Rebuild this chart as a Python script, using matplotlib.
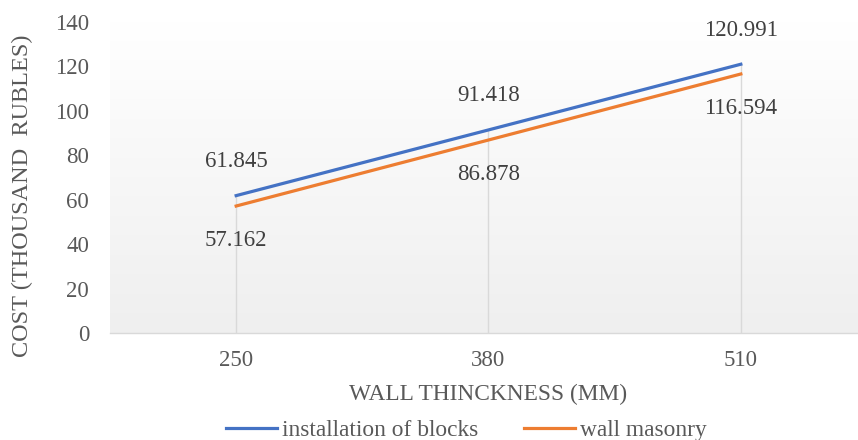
import numpy as np
import matplotlib
matplotlib.use('Agg')
from matplotlib import pyplot as plt

# data
thickness = ['250', '380', '510']
blocks = [61.845, 91.418, 120.991]
masonry = [57.162, 86.878, 116.594]
yticks = [0, 20, 40, 60, 80, 100, 120, 140]

plt.rc('font', family=['Liberation Serif', 'DejaVu Serif'])
plt.rc('font', size=16.5)

blue = '#4472C4'
orange = '#ED7D31'
label_col = '#404040'
tick_col = '#595959'

fig = plt.figure(figsize=(8.58, 4.4), dpi=100)
ax = fig.add_axes([110 / 858, 1 - 333 / 440, 757 / 858, 311 / 440])

x = np.arange(len(thickness))

# gradient background of the plot area
grad = np.linspace(0, 1, 256).reshape(-1, 1)
ax.imshow(grad, extent=[0, 1, 0, 1], transform=ax.transAxes, aspect='auto',
          cmap=matplotlib.colors.LinearSegmentedColormap.from_list('g', ['#efefef', '#ffffff']),
          origin='lower', zorder=0)

# drop lines
ax.vlines(x, 0, np.maximum(blocks, masonry), colors='#d9d9d9', linewidth=1, zorder=1)

ax.plot(x, blocks, color=blue, linewidth=2.3, label='installation of blocks', zorder=3)
ax.plot(x, masonry, color=orange, linewidth=2.3, label='wall masonry', zorder=3)

for xi, v in zip(x, blocks):
    ax.annotate(f'{v:.3f}', (xi, v), xytext=(0, 17), textcoords='offset points',
                ha='center', va='bottom', color=label_col)
for xi, v in zip(x, masonry):
    ax.annotate(f'{v:.3f}', (xi, v), xytext=(0, -17), textcoords='offset points',
                ha='center', va='top', color=label_col)

ax.set_xlim(-0.5, 2.5)
ax.set_ylim(0, 140)
ax.set_xticks(x)
ax.set_xticklabels(thickness)
ax.set_yticks(yticks)
ax.tick_params(axis='both', length=0, colors=tick_col, labelsize=16.5)
ax.tick_params(axis='y', pad=15)
ax.tick_params(axis='x', pad=12)

for s in ['top', 'right', 'left']:
    ax.spines[s].set_visible(False)
ax.spines['bottom'].set_color('#d9d9d9')
ax.spines['bottom'].set_linewidth(1)

fig.text(488 / 858, 1 - 394 / 440, 'WALL THINCKNESS (MM)', ha='center', va='center',
         color=tick_col, fontsize=16.8)
fig.text(22 / 858, 1 - 196 / 440, 'COST (THOUSAND  RUBLES)', ha='center', va='center',
         rotation=90, color=tick_col, fontsize=17.5)

fig.legend(loc='center', bbox_to_anchor=(466 / 858, 1 - 430 / 440), ncol=2, frameon=False,
           fontsize=16.8, handlelength=2.2, handletextpad=0.2, columnspacing=1.95,
           labelcolor=tick_col, borderpad=0)

fig.savefig('out.png', dpi=100)
plt.close()
